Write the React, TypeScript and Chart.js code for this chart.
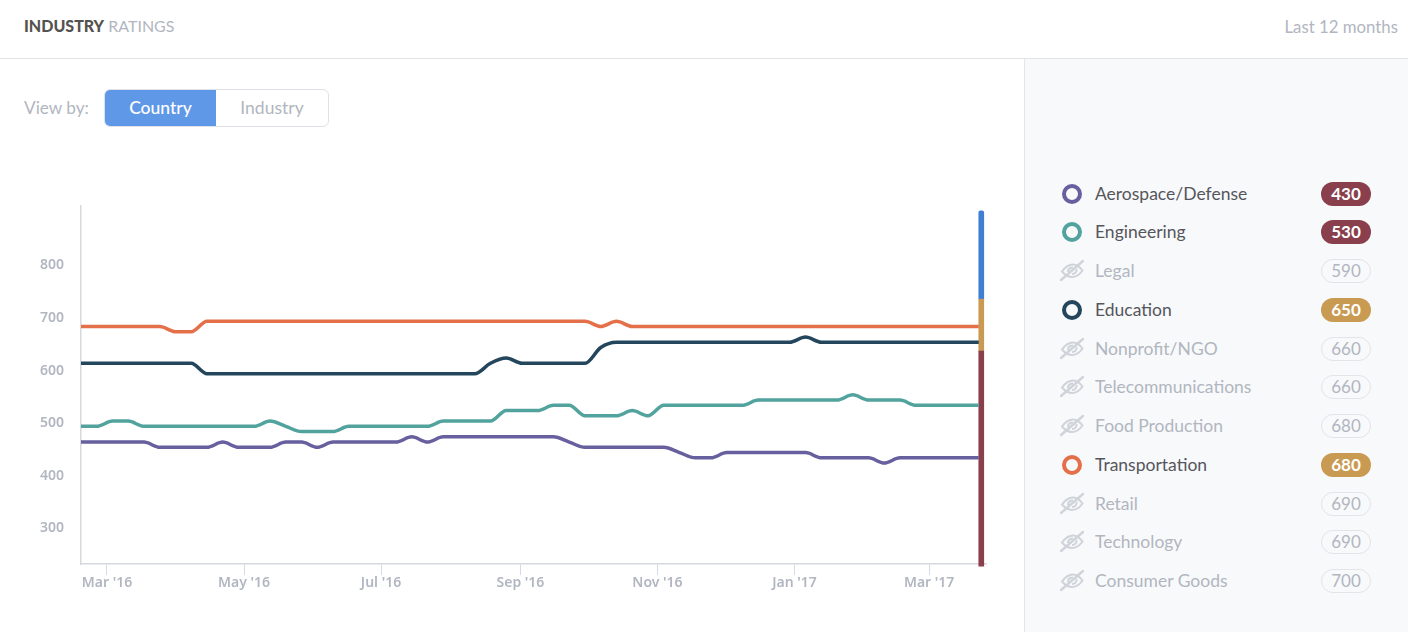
import React, { useEffect, useRef } from "react";
import { Chart, registerables } from "chart.js";

Chart.register(...registerables);

const aerospace = [460,460,460,460,460,450,450,450,450,460,450,450,450,460,460,450,460,460,460,460,460,470,460,470,470,470,470,470,470,470,470,460,450,450,450,450,450,450,440,430,430,440,440,440,440,440,440,430,430,430,430,420,430,430,430,430,430,430];
const engineering = [490,490,500,500,490,490,490,490,490,490,490,490,500,490,480,480,480,490,490,490,490,490,490,500,500,500,500,520,520,520,530,530,510,510,510,520,510,530,530,530,530,530,530,540,540,540,540,540,540,550,540,540,540,530,530,530,530,530];
const education = [610,610,610,610,610,610,610,610,590,590,590,590,590,590,590,590,590,590,590,590,590,590,590,590,590,590,610,620,610,610,610,610,610,640,650,650,650,650,650,650,650,650,650,650,650,650,660,650,650,650,650,650,650,650,650,650,650,650];
const transportation = [680,680,680,680,680,680,670,670,690,690,690,690,690,690,690,690,690,690,690,690,690,690,690,690,690,690,690,690,690,690,690,690,690,680,690,680,680,680,680,680,680,680,680,680,680,680,680,680,680,680,680,680,680,680,680,680,680,680];
const weeks = aerospace.map((_, i) => i);

const yTicks = [300, 400, 500, 600, 700, 800];
const xTickLabels = ["Mar '16", "May '16", "Jul '16", "Sep '16", "Nov '16", "Jan '17", "Mar '17"];
const xTickWeeks = [1.65, 10.35, 19.05, 27.9, 36.6, 45.3, 53.85];

const bandWeek = 57.16;
const bandFloor = 224;
const bandLow = 633;
const bandMid = 732;
const bandHigh = 900;

const legendNames = ["Aerospace/Defense","Engineering","Legal","Education","Nonprofit/NGO","Telecommunications","Food Production","Transportation","Retail","Technology","Consumer Goods"];
const legendValues = [430,530,590,650,660,660,680,680,690,690,700];
const legendColors = ["#675f9e","#52a39d",null,"#23465c",null,null,null,"#e4704a",null,null,null];
const legendBadges = ["#8a3f4d","#8a3f4d",null,"#c99b52",null,null,null,"#c99b52",null,null,null];
const legendTops = [194,232,271,310,349,387,426,465,504,542,581];

const FONT = "Lato, 'Noto Sans', sans-serif";
const TICKFONT = "'Noto Sans', sans-serif";
const GREY = "#b1b6c0";

function EyeOff() {
  return (
    <svg width="24" height="24" viewBox="0 0 24 24" style={{ position: "absolute", left: 1060, top: -12 }} fill="none" stroke="#cfd3da" strokeWidth="2">
      <path d="M2 12.5 C6 7 10 5.5 13 5.5 C17 5.5 20 8 22.5 11.5 C19 16.5 15 18 12 18 C8 18 5 16 2 12.5 Z" />
      <path d="M8 13 C8 10 10 8.5 13 8.5 M16.5 10 C17 13 15 15 12 15" />
      <path d="M1 21 L23 2" strokeWidth="2.4" strokeLinecap="round" />
    </svg>
  );
}

export default function App() {
  const ref = useRef<HTMLCanvasElement | null>(null);

  useEffect(() => {
    if (!ref.current) return;
    const line = (label: string, data: number[], color: string) => ({
      type: "line" as const,
      label,
      data: data.map((y, i) => ({ x: weeks[i], y })),
      borderColor: color,
      borderWidth: 3.5,
      pointRadius: 0,
      cubicInterpolationMode: "monotone" as const,
      fill: false,
      borderCapStyle: "butt" as const,
    });
    const band = (label: string, lo: number, hi: number, color: string, round = false) => ({
      type: "bar" as const,
      label,
      data: [{ x: bandWeek, y: [lo, hi] }],
      backgroundColor: color,
      barThickness: 5,
      grouped: false,
      clip: false,
      borderSkipped: false,
      borderRadius: round ? { topLeft: 2, topRight: 2, bottomLeft: 0, bottomRight: 0 } : 0,
    });
    const chart = new Chart(ref.current, {
      data: {
        datasets: [
          line("Aerospace/Defense", aerospace, "#675f9e"),
          line("Engineering", engineering, "#52a39d"),
          line("Education", education, "#23465c"),
          line("Transportation", transportation, "#e4704a"),
          band("low", bandFloor, bandLow, "#8a3f4d"),
          band("mid", bandLow, bandMid, "#c99b52"),
          band("high", bandMid, bandHigh, "#3f7fd3", true),
        ] as any,
      },
      options: {
        animation: false,
        responsive: false,
        parsing: { xAxisKey: "x", yAxisKey: "y" } as any,
        layout: { padding: { top: 0, right: 38, left: 0, bottom: 0 } },
        plugins: { legend: { display: false }, tooltip: { enabled: false } },
        scales: {
          x: {
            type: "linear",
            min: 0,
            max: 57.46,
            offset: false,
            afterBuildTicks: (axis: any) => {
              axis.ticks = xTickWeeks.map((value) => ({ value }));
            },
            afterFit: (axis: any) => {
              axis.height = 36;
            },
            grid: { offset: false, drawOnChartArea: false, drawTicks: true, tickLength: 11, tickColor: "#d3dbe8", tickWidth: 1 },
            border: { color: "#d5d8dc", width: 1.5 },
            ticks: {
              autoSkip: false,
              maxRotation: 0,
              padding: 0,
              color: GREY,
              font: { family: TICKFONT, size: 14, weight: 600 },
              callback: (_v: any, i: number) => xTickLabels[i],
            },
          },
          y: {
            type: "linear",
            min: 228,
            max: 910.5,
            afterBuildTicks: (axis: any) => {
              axis.ticks = yTicks.map((value) => ({ value }));
            },
            afterFit: (axis: any) => {
              axis.width = 81;
            },
            grid: { display: true, drawOnChartArea: false, drawTicks: false },
            border: { color: "#d5d8dc", width: 1.5 },
            ticks: {
              padding: 17,
              labelOffset: 2,
              color: GREY,
              font: { family: TICKFONT, size: 14, weight: 600 },
            },
          },
        },
      } as any,
    });
    return () => chart.destroy();
  }, []);

  return (
    <div style={{ position: "fixed", left: 0, top: 0, width: 1408, height: 632, background: "#fff", overflow: "hidden", fontFamily: FONT }}>
      <div style={{ position: "absolute", left: 1024, top: 58, width: 384, height: 574, background: "#f8f9fb", borderLeft: "1px solid #e3e5e9", boxSizing: "border-box" }} />
      <div style={{ position: "absolute", left: 0, top: 58, width: 1408, height: 1, background: "#e2e3e7" }} />
      <div style={{ position: "absolute", left: 24, top: 16, fontSize: 16, lineHeight: "20px", color: GREY }}>
        <b style={{ color: "#55534f", fontWeight: 900 }}>INDUSTRY</b> RATINGS
      </div>
      <div style={{ position: "absolute", right: 10, top: 17, fontSize: 16.8, lineHeight: "20px", color: GREY }}>Last 12 months</div>
      <div style={{ position: "absolute", left: 24, top: 98, fontSize: 17.2, lineHeight: "20px", color: GREY }}>View by:</div>
      <div style={{ position: "absolute", left: 104, top: 89, width: 225, height: 38, boxSizing: "border-box", border: "1px solid #dfe1e6", borderRadius: 6, overflow: "hidden", display: "flex", fontSize: 17.5, lineHeight: "36px", textAlign: "center" }}>
        <div style={{ width: 111, background: "#6098e8", color: "#fff", fontWeight: 500 }}>Country</div>
        <div style={{ flex: 1, color: GREY }}>Industry</div>
      </div>
      <canvas ref={ref} width={1024} height={420} style={{ position: "absolute", left: 0, top: 180, width: 1024, height: 420 }} />
      {legendNames.map((name, i) => {
        const color = legendColors[i];
        const badge = legendBadges[i];
        return (
          <div key={name} style={{ position: "absolute", left: 0, top: legendTops[i], width: 1408, height: 0 }}>
            {color ? (
              <div style={{ position: "absolute", left: 1062, top: -10, width: 20, height: 20, boxSizing: "border-box", border: `4px solid ${color}`, borderRadius: "50%" }} />
            ) : (
              <EyeOff />
            )}
            <div style={{ position: "absolute", left: 1095, top: -12, fontSize: 17.5, lineHeight: "24px", whiteSpace: "nowrap", color: color ? "#55565c" : GREY }}>{name}</div>
            <div style={{ position: "absolute", left: 1321, top: -12, width: 50, height: 24, boxSizing: "border-box", borderRadius: 12, textAlign: "center", fontSize: 17, lineHeight: badge ? "24px" : "22px", fontWeight: badge ? 700 : 400, background: badge ?? "transparent", color: badge ? "#fff" : GREY, border: badge ? "none" : "1px solid #e2e4e8" }}>{legendValues[i]}</div>
          </div>
        );
      })}
    </div>
  );
}
